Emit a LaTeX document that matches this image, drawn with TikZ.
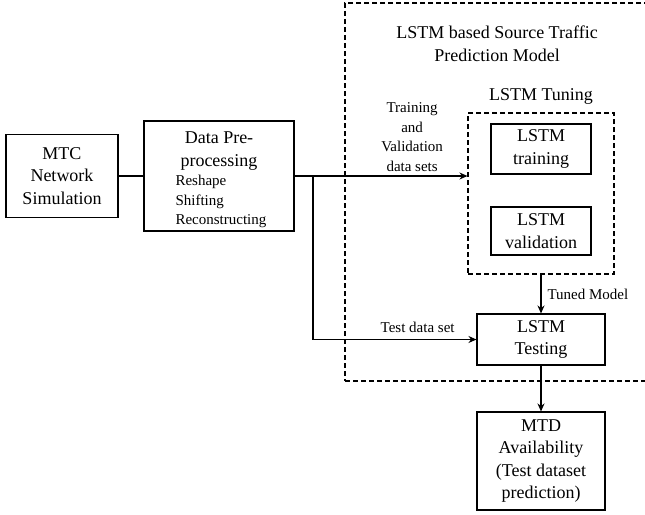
\documentclass[tikz,border=0pt]{standalone}
\usepackage{fontspec}
\setmainfont{Liberation Serif}
\usetikzlibrary{positioning,arrows.meta}

\begin{document}
\begin{tikzpicture}[x=1pt,y=-1pt,line width=1.1pt,
	big/.style={font=\fontsize{18}{22.5}\selectfont,align=center,inner sep=0pt},
	small/.style={font=\fontsize{15}{19.5}\selectfont,align=center,inner sep=0pt},
	box/.style={draw,big},
	frame/.style={draw,dash pattern=on 5pt off 3pt}]
	\useasboundingbox (0,0) rectangle (645,514);
	\node[frame,minimum width=315,minimum height=378] (model) at (502.5,192) {};
	\node[frame,minimum width=146,minimum height=161] (tuning) at (541,193.5) {};
	\node[big] (modeltitle) at (497,44) {LSTM based Source Traffic\\Prediction Model};
	\node[big] (tuningtitle) at (541,96) {LSTM Tuning};
	\node[box,minimum width=112,minimum height=83] (mtc) at (62,176) {MTC\\Network\\Simulation};
	\node[box,minimum width=150,minimum height=110] (dpp) at (219,176) {};
	\node[big] (dpptitle) at (219,151) {Data Pre-\\processing};
	\node[small,align=left,anchor=north west] (dppsteps) at (175,175) {Reshape\\Shifting\\Reconstructing};
	\node[box,minimum width=100,minimum height=50] (train) at (541,149) {LSTM\\training};
	\node[box,minimum width=100,minimum height=48] (valid) at (541,231) {LSTM\\validation};
	\node[box,minimum width=128,minimum height=51] (test) at (541,339.5) {LSTM\\Testing};
	\node[box,minimum width=128,minimum height=98] (mtd) at (541,461) {MTD\\Availability\\(Test dataset\\prediction)};
	\coordinate (split) at (313,176);
	\draw (mtc) -- (dpp);
	\path[-{Stealth[length=8pt,width=7pt]}]
	(dpp.east) edge node[small,pos=0.68,above=4pt] {Training\\and\\Validation\\data sets} (dpp.east -| tuning.west)
	(tuning.south) edge node[small,right=6pt] {Tuned Model} (test.north)
	(test.south) edge (mtd.north);
	\draw[-{Stealth[length=8pt,width=7pt]}] (split) |- node[small,pos=0.82,above=6pt] {Test data set} (test.west);
\end{tikzpicture}
\end{document}
